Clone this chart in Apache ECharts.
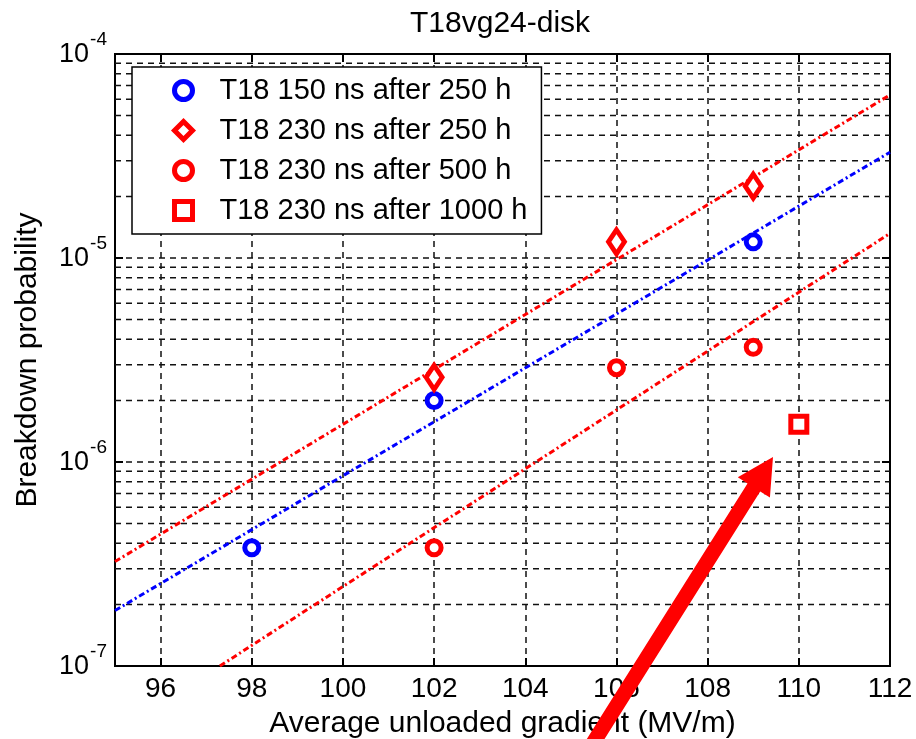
<!DOCTYPE html>
<html>
<head>
<meta charset="UTF-8">
<title>T18vg24-disk</title>
<style>
html, body { margin: 0; padding: 0; background: #fff; }
#main { width: 916px; height: 739px; }
</style>
</head>
<body>
<div id="main"></div>
<script src="https://cdn.jsdelivr.net/npm/echarts@6/dist/echarts.min.js"></script>
<script>
// measured points
var xB150_250 = [98, 102, 109];
var yB150_250 = [3.8e-7, 2.0e-6, 1.2e-5];
var xR230_250 = [102, 106, 109];
var yR230_250 = [2.6e-6, 1.2e-5, 2.25e-5];
var xR230_500 = [102, 106, 109];
var yR230_500 = [3.8e-7, 2.9e-6, 3.65e-6];
var xR230_1000 = [110];
var yR230_1000 = [1.53e-6];

// fitted exponential lines (end points)
var fitBlueX = [95, 112];
var fitBlueY = [1.87e-7, 3.3e-5];
var fitRedX = [95, 112];
var fitRedY = [3.25e-7, 6.3e-5];
var fitRedLowX = [97.3, 112];
var fitRedLowY = [1e-7, 1.32e-5];

var xTicks = [96, 98, 100, 102, 104, 106, 108, 110, 112];
var decades = [1e-7, 1e-6, 1e-5];
var minorMult = [2, 3, 4, 5, 6, 7, 8, 9];

var names = ['T18 150 ns after 250 h', 'T18 230 ns after 250 h',
	'T18 230 ns after 500 h', 'T18 230 ns after 1000 h'];

function pairs(xs, ys) {
	var out = [];
	for (var i = 0; i < xs.length; i++) out.push([xs[i], ys[i]]);
	return out;
}

var FONT = 'Liberation Sans';
var dashGrid = { color: '#111', width: 1.5, type: [6, 5] };

// minor log grid lines, one flat line per value
var gridSeries = [];
for (var d = 0; d < decades.length; d++) {
	for (var m = 0; m < minorMult.length; m++) {
		var v = decades[d] * minorMult[m];
		gridSeries.push({
			type: 'line',
			data: [[95, v], [112, v]],
			showSymbol: false,
			silent: true,
			z: 1,
			lineStyle: dashGrid
		});
	}
}

var chart = echarts.init(document.getElementById('main'));

// arrow annotation (drawn over the chart)
var dir = [0.532, -0.846], perp = [0.846, 0.532];
var tip = [773, 457];
var base = [tip[0] - 36 * dir[0], tip[1] - 36 * dir[1]];
var tail = [base[0] - 310 * dir[0], base[1] - 310 * dir[1]];
var hw = 7.5, hh = 19;
var arrowPts = [
	tip,
	[base[0] + hh * perp[0], base[1] + hh * perp[1]],
	[base[0] + hw * perp[0], base[1] + hw * perp[1]],
	[tail[0] + hw * perp[0], tail[1] + hw * perp[1]],
	[tail[0] - hw * perp[0], tail[1] - hw * perp[1]],
	[base[0] - hw * perp[0], base[1] - hw * perp[1]],
	[base[0] - hh * perp[0], base[1] - hh * perp[1]]
];

var series = gridSeries.concat([{
	name: 'fitRed',
	type: 'line',
	data: pairs(fitRedX, fitRedY),
	showSymbol: false,
	z: 3,
	lineStyle: { color: '#ff0000', width: 3, type: [6, 3, 2, 3] }
}, {
	name: 'fitBlue',
	type: 'line',
	data: pairs(fitBlueX, fitBlueY),
	showSymbol: false,
	z: 3,
	lineStyle: { color: '#0000ff', width: 3, type: [6, 3, 2, 3] }
}, {
	name: 'fitRedLow',
	type: 'line',
	data: pairs(fitRedLowX, fitRedLowY),
	showSymbol: false,
	z: 3,
	lineStyle: { color: '#ff0000', width: 3, type: [6, 3, 2, 3] }
}, {
	name: names[0],
	type: 'scatter',
	data: pairs(xB150_250, yB150_250),
	symbol: 'circle',
	symbolSize: 14,
	itemStyle: { color: '#fff', borderColor: '#0000ff', borderWidth: 5, opacity: 1 },
	z: 5
}, {
	name: names[1],
	type: 'scatter',
	data: pairs(xR230_250, yR230_250),
	symbol: 'diamond',
	symbolSize: [16, 24],
	itemStyle: { color: '#fff', borderColor: '#ff0000', borderWidth: 5, opacity: 1 },
	z: 5
}, {
	name: names[2],
	type: 'scatter',
	data: pairs(xR230_500, yR230_500),
	symbol: 'circle',
	symbolSize: 14,
	itemStyle: { color: '#fff', borderColor: '#ff0000', borderWidth: 5, opacity: 1 },
	z: 5
}, {
	name: names[3],
	type: 'scatter',
	data: pairs(xR230_1000, yR230_1000),
	symbol: 'rect',
	symbolSize: 16,
	itemStyle: { color: '#fff', borderColor: '#ff0000', borderWidth: 5, opacity: 1 },
	z: 5
}]);

var option = {
	animation: false,
	backgroundColor: '#fff',
	textStyle: { fontFamily: FONT },
	title: {
		text: 'T18vg24-disk',
		left: 405,
		top: 4,
		textStyle: { fontFamily: FONT, fontSize: 30, fontWeight: 'normal', color: '#000' }
	},
	grid: {
		left: 115, top: 54, width: 775, height: 612,
		outerBoundsMode: 'none',
		containLabel: false,
		show: true, borderColor: '#000', borderWidth: 2
	},
	legend: {
		data: names,
		orient: 'vertical',
		left: 132, top: 67,
		backgroundColor: '#fff',
		borderColor: '#000',
		borderWidth: 1.5,
		borderRadius: 0,
		padding: [9, 14, 9, 40],
		itemGap: 11,
		itemWidth: 18,
		itemHeight: 18,
		itemStyle: { borderWidth: 5, opacity: 1 },
		textStyle: { fontFamily: FONT, fontSize: 29, color: '#000', padding: [0, 0, 0, 22] }
	},
	xAxis: [{
		type: 'value',
		min: 95, max: 112,
		name: 'Average unloaded gradient (MV/m)',
		nameLocation: 'middle',
		nameGap: 43,
		nameTextStyle: { fontFamily: FONT, fontSize: 30, color: '#000' },
		axisLine: { show: true, lineStyle: { color: '#000', width: 2 } },
		axisTick: { show: true, inside: true, length: 8, customValues: xTicks, lineStyle: { color: '#000', width: 2 } },
		axisLabel: { customValues: xTicks, margin: 9, fontFamily: FONT, fontSize: 28, color: '#000' },
		splitLine: { show: true, lineStyle: dashGrid }
	}, {
		type: 'value',
		min: 95, max: 112,
		position: 'top',
		axisLine: { show: true, lineStyle: { color: '#000', width: 2 } },
		axisTick: { show: true, inside: true, length: 8, customValues: xTicks, lineStyle: { color: '#000', width: 2 } },
		axisLabel: { show: false },
		splitLine: { show: false }
	}],
	yAxis: [{
		type: 'log',
		logBase: 10,
		min: 1e-7, max: 1e-4,
		name: 'Breakdown probability',
		nameLocation: 'middle',
		nameGap: 72,
		nameTextStyle: { fontFamily: FONT, fontSize: 30, color: '#000' },
		axisLine: { show: true, lineStyle: { color: '#000', width: 2 } },
		axisTick: { show: true, inside: true, length: 8, lineStyle: { color: '#000', width: 2 } },
		axisLabel: {
			margin: 8,
			formatter: function (v) {
				var e = Math.round(Math.log10(v));
				return '{b|10}{e|' + e + '}';
			},
			rich: {
				b: { fontFamily: FONT, fontSize: 27, color: '#000', verticalAlign: 'bottom', padding: [0, 0, 9, 0] },
				e: { fontFamily: FONT, fontSize: 19, color: '#000', verticalAlign: 'bottom', padding: [0, 0, 28, 1] }
			}
		},
		splitLine: { show: true, lineStyle: dashGrid }
	}, {
		type: 'log',
		logBase: 10,
		min: 1e-7, max: 1e-4,
		position: 'right',
		axisLine: { show: true, lineStyle: { color: '#000', width: 2 } },
		axisTick: { show: true, inside: true, length: 8, lineStyle: { color: '#000', width: 2 } },
		axisLabel: { show: false },
		splitLine: { show: false }
	}],
	graphic: [{
		type: 'polygon',
		z: 100,
		shape: { points: arrowPts },
		style: { fill: '#ff0000' }
	}],
	series: series
};
chart.setOption(option);
</script>
</body>
</html>
